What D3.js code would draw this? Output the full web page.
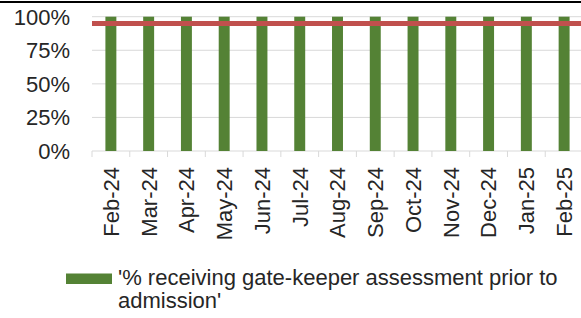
<!DOCTYPE html>
<html>
<head>
<meta charset="utf-8">
<script src="https://cdn.jsdelivr.net/npm/d3@7"></script>
<style>
  html, body { margin: 0; padding: 0; background: #fff; }
  svg { display: block; font-family: "Liberation Sans", Arial, sans-serif; }
</style>
</head>
<body>
<svg id="chart" width="581" height="318"></svg>
<script>
const months = ["Feb-24", "Mar-24", "Apr-24", "May-24", "Jun-24", "Jul-24", "Aug-24",
  "Sep-24", "Oct-24", "Nov-24", "Dec-24", "Jan-25", "Feb-25"];
const gatekeeper = [100, 100, 100, 100, 100, 100, 100, 100, 100, 100, 100, 100, 100];
const target = [95, 95, 95, 95, 95, 95, 95, 95, 95, 95, 95, 95, 95];
const yTicks = [0, 25, 50, 75, 100];
const legendLines = ["'% receiving gate-keeper assessment prior to", "admission'"];

const svg = d3.select("#chart");
var m = { top: 16.7, left: 92, bottom: 167.3 }; // plot edges
var plotRight = 583;

const x = d3.scaleBand().domain(months).range([m.left, plotRight]).paddingInner(0.71).paddingOuter(0.355);
const y = d3.scaleLinear().domain([0, 100]).range([151, m.top]);

// top border line
svg.append("line")
  .attr("x1", 0).attr("x2", 581)
  .attr("y1", 2).attr("y2", 2)
  .attr("stroke", "#000").attr("stroke-width", 2);

// gridlines
svg.append("g")
  .selectAll("line")
  .data(yTicks)
  .join("line")
  .attr("x1", m.left).attr("x2", plotRight)
  .attr("y1", d => y(d)).attr("y2", d => y(d))
  .attr("stroke", "#d9d9d9").attr("stroke-width", 1);

// y labels
svg.append("g")
  .selectAll("text")
  .data(yTicks)
  .join("text")
  .attr("x", 70)
  .attr("y", d => y(d))
  .attr("dy", "0.36em")
  .attr("text-anchor", "end")
  .attr("font-size", "22px")
  .attr("fill", "#262626")
  .text(d => d + "%");

// category tick marks at band boundaries
const step = x.step();
svg.append("g")
  .selectAll("line")
  .data(d3.range(months.length + 1))
  .join("line")
  .attr("x1", i => m.left + i * step).attr("x2", i => m.left + i * step)
  .attr("y1", y(0)).attr("y2", y(0) + 6)
  .attr("stroke", "#d9d9d9");

// bars
svg.append("g")
  .selectAll("rect")
  .data(gatekeeper)
  .join("rect")
  .attr("x", (d, i) => x(months[i]))
  .attr("width", x.bandwidth())
  .attr("y", d => y(d))
  .attr("height", d => y(0) - y(d))
  .attr("fill", "#548235");

// target line across the plot
const tx = d3.scaleLinear().domain([0, target.length - 1]).range([m.left, plotRight]);
svg.append("path")
  .datum(target)
  .attr("d", d3.line().x((d, i) => tx(i)).y(d => y(d)))
  .attr("fill", "none")
  .attr("stroke", "#c0504d")
  .attr("stroke-width", 5);

// x labels (rotated)
svg.append("g")
  .selectAll("text")
  .data(months)
  .join("text")
  .attr("transform", d => "translate(" + (x(d) + x.bandwidth() / 2) + "," + 167 + ") rotate(-90)")
  .attr("dy", "0.36em")
  .attr("text-anchor", "end")
  .attr("font-size", "22px")
  .attr("fill", "#262626")
  .text(d => d);

// legend
svg.append("rect")
  .attr("x", 66).attr("y", 273.5)
  .attr("width", 46).attr("height", 10.5)
  .attr("fill", "#548235");

svg.append("g")
  .selectAll("text")
  .data(legendLines)
  .join("text")
  .attr("x", 118)
  .attr("y", (d, i) => 285 + i * 23)
  .attr("font-size", "22px")
  .attr("fill", "#262626")
  .text(d => d);
</script>
</body>
</html>
